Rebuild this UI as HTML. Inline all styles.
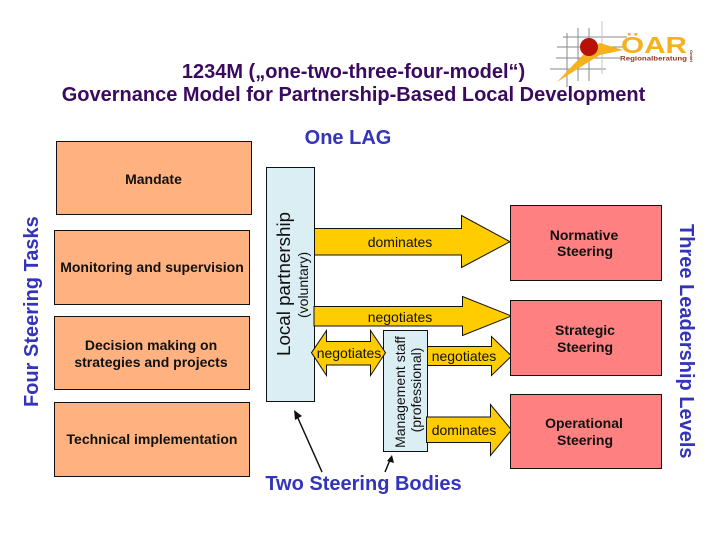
<!DOCTYPE html>
<html><head><meta charset="utf-8"><style>html,body{margin:0;padding:0;background:#fff}svg{display:block}text{font-family:"Liberation Sans",sans-serif}</style></head><body>
<svg width="720" height="540" viewBox="0 0 720 540" xmlns="http://www.w3.org/2000/svg">
<rect width="720" height="540" fill="#fff"/>
<!-- logo -->
<g stroke="#8a8a8a" stroke-width="1" fill="none">
<path d="M567 33V87M578 28V81M589 28V81M563 37H627M557 47H625M556 58H620M550 69H606"/>
<path d="M602 21V74" stroke="#c4c4c4"/>
</g>
<polygon points="557,82 573,65 586,52 600,43 623,50 600,55 587,63" fill="#f5b21e"/>
<circle cx="589" cy="47" r="9" fill="#b81208"/>
<text x="621" y="53" font-size="23" font-weight="bold" fill="#f5b21e" textLength="66" lengthAdjust="spacingAndGlyphs">ÖAR</text>
<text x="620" y="60.5" font-size="6.5" font-weight="bold" fill="#8a3a20" textLength="67" lengthAdjust="spacingAndGlyphs">Regionalberatung</text>
<text transform="translate(690,50) rotate(90)" font-size="4" font-weight="bold" fill="#8a3a20">GmbH</text>
<!-- titles -->
<g font-weight="bold" text-anchor="middle">
<text x="353.5" y="78" font-size="20" fill="#3a0a5e">1234M („one-two-three-four-model“)</text>
<text x="353.5" y="101" font-size="20" fill="#3a0a5e">Governance Model for Partnership-Based Local Development</text>
<text x="348" y="144" font-size="20" fill="#3333bb">One LAG</text>
</g>
<!-- left boxes -->
<g fill="#ffb27f" stroke="#111" stroke-width="1">
<rect x="56.5" y="141.5" width="195" height="73"/>
<rect x="54.5" y="230.5" width="195" height="74"/>
<rect x="54.5" y="316.5" width="195" height="73"/>
<rect x="54.5" y="402.5" width="195" height="74"/>
</g>
<g font-size="14" font-weight="bold" fill="#111" text-anchor="middle">
<text x="153.5" y="184">Mandate</text>
<text x="152" y="272">Monitoring and supervision</text>
<text x="151" y="350">Decision making on</text>
<text x="151" y="367">strategies and projects</text>
<text x="152" y="444">Technical implementation</text>
</g>
<!-- light boxes -->
<g fill="#dbeef3" stroke="#111" stroke-width="1">
<rect x="266.5" y="167.5" width="48" height="234"/>
<rect x="383.5" y="330.5" width="44" height="121"/>
</g>
<!-- arrows -->
<g fill="#ffcc00" stroke="#111" stroke-width="1" stroke-linejoin="miter">
<polygon points="314.5,228.5 461.5,228.5 461.5,215.5 510,241.7 461.5,267.5 461.5,255 314.5,255"/>
<polygon points="314,306.5 462.5,306.5 462.5,296.5 511.5,316 462.5,335.5 462.5,326 314,326"/>
<polygon points="311.5,352.7 326.5,330.5 326.5,341.5 370.5,341.5 370.5,330.5 385.5,352.7 370.5,375.5 370.5,365 326.5,365 326.5,375.5"/>
<polygon points="427.5,346.5 491.5,346.5 491.5,336.5 511.5,356 491.5,375.5 491.5,365.5 427.5,365.5"/>
<polygon points="426.5,417 490.5,417 490.5,404.5 511.5,430 490.5,455.5 490.5,442.5 426.5,442.5"/>
</g>
<!-- right boxes -->
<g fill="#ff8080" stroke="#111" stroke-width="1">
<rect x="510.5" y="205.5" width="151" height="75"/>
<rect x="510.5" y="300.5" width="151" height="75"/>
<rect x="510.5" y="394.5" width="151" height="74"/>
</g>
<g font-size="14" font-weight="bold" fill="#111" text-anchor="middle">
<text x="584" y="240">Normative</text>
<text x="585" y="256">Steering</text>
<text x="585" y="335">Strategic</text>
<text x="585" y="352">Steering</text>
<text x="584" y="428">Operational</text>
<text x="585" y="445">Steering</text>
</g>
<!-- arrow labels -->
<g font-size="14" fill="#111" text-anchor="middle">
<text x="400" y="247">dominates</text>
<text x="400" y="322">negotiates</text>
<text x="349" y="358">negotiates</text>
<text x="464" y="361">negotiates</text>
<text x="464" y="435">dominates</text>
</g>
<!-- rotated labels -->
<text transform="translate(290,356) rotate(-90)" font-size="18.8" fill="#111">Local partnership</text>
<text transform="translate(308,318) rotate(-90)" font-size="14" fill="#111">(voluntary)</text>
<text transform="translate(405,392) rotate(-90)" font-size="14" fill="#111" text-anchor="middle">Management staff</text>
<text transform="translate(421,390) rotate(-90)" font-size="14" fill="#111" text-anchor="middle">(professional)</text>
<text transform="translate(38,407) rotate(-90)" font-size="20" font-weight="bold" fill="#3333bb">Four Steering Tasks</text>
<text transform="translate(680,224) rotate(90)" font-size="20" font-weight="bold" fill="#3333bb">Three Leadership Levels</text>
<!-- pointers -->
<g stroke="#111" stroke-width="1.5" fill="#111">
<line x1="322" y1="472" x2="297" y2="416"/>
<polygon points="294,410 302,416 295,420" stroke="none"/>
<line x1="385" y1="472" x2="390" y2="460"/>
<polygon points="392,455 394,463 387,461" stroke="none"/>
</g>
<text x="363.5" y="490" font-size="20" font-weight="bold" fill="#3333bb" text-anchor="middle">Two Steering Bodies</text>
</svg>
</body></html>
